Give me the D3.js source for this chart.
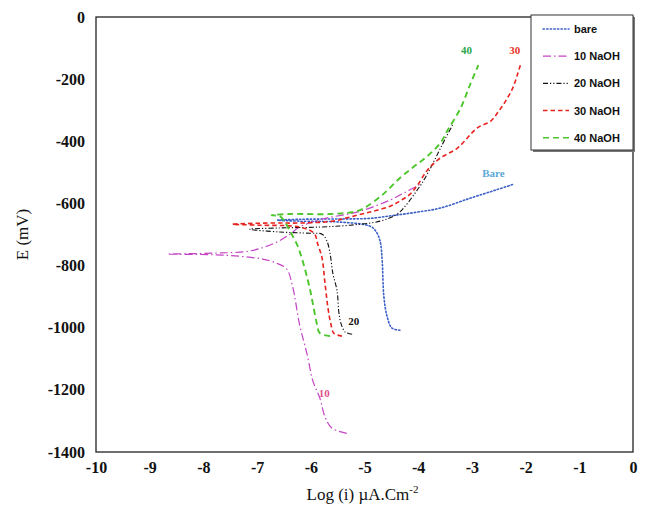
<!DOCTYPE html>
<html>
<head>
<meta charset="utf-8">
<script src="https://cdn.jsdelivr.net/npm/d3@7"></script>
<style>
  body { margin: 0; background: #fff; }
  svg { display: block; }
  .tick text { font-family: 'Liberation Serif', 'DejaVu Serif', serif; font-weight: bold; font-size: 16px; fill: #111; }
</style>
</head>
<body>
<svg id="chart" width="650" height="515"></svg>
<script>
// tick labels
var xTicks = [-10, -9, -8, -7, -6, -5, -4, -3, -2, -1, 0];
var yTicks = [0, -200, -400, -600, -800, -1000, -1200, -1400];

// series: log(i) and E (mV)
var bareX = [-4.34, -4.49, -4.58, -4.64, -4.67, -4.71, -4.79, -4.90, -5.46, -6.21, -6.62, -6.21, -5.46, -4.90, -4.43, -4.02, -3.59, -3.03, -2.56, -2.22];
var bareY = [-1008, -1001, -963, -898, -786, -721, -689, -673, -660, -657, -654, -651, -650, -648, -638, -628, -615, -583, -557, -538];

var naoh10X = [-5.33, -5.61, -5.74, -5.83, -5.96, -6.07, -6.21, -6.34, -6.45, -6.64, -6.90, -7.33, -7.83, -8.67, -7.83, -7.14, -6.64, -6.39, -6.21, -5.78, -5.14, -4.52, -4.24, -3.96];
var naoh10Y = [-1340, -1323, -1285, -1227, -1172, -1085, -989, -866, -811, -792, -779, -770, -765, -763, -760, -753, -725, -699, -676, -650, -628, -589, -564, -538];

var naoh20X = [-5.23, -5.36, -5.44, -5.48, -5.51, -5.59, -5.64, -5.70, -5.79, -6.02, -6.58, -7.14, -6.58, -5.83, -5.27, -4.71, -4.39, -4.21, -4.06, -3.93, -3.78, -3.63, -3.50, -3.36];
var naoh20Y = [-1021, -1014, -985, -947, -882, -824, -763, -721, -699, -696, -692, -683, -679, -676, -670, -657, -634, -602, -567, -535, -489, -438, -393, -348];

var naoh30X = [-5.42, -5.57, -5.63, -5.68, -5.74, -5.79, -5.87, -5.94, -6.21, -6.95, -7.46, -6.77, -6.21, -5.59, -5.21, -4.84, -4.52, -4.34, -4.15, -4.00, -3.83, -3.59, -3.27, -2.90, -2.65, -2.50, -2.37, -2.24, -2.15, -2.09];
var naoh30Y = [-1027, -1018, -985, -937, -850, -776, -731, -696, -676, -670, -667, -663, -663, -657, -641, -625, -609, -592, -570, -538, -493, -454, -422, -357, -335, -303, -270, -229, -184, -151];

var naoh40X = [-5.64, -5.83, -5.89, -5.96, -6.02, -6.15, -6.26, -6.39, -6.49, -6.58, -6.73, -6.39, -5.64, -5.14, -4.95, -4.65, -4.34, -4.09, -3.83, -3.59, -3.46, -3.21, -3.03, -2.88];
var naoh40Y = [-1027, -1018, -985, -924, -873, -786, -731, -689, -657, -641, -638, -634, -634, -625, -609, -570, -518, -483, -448, -406, -367, -293, -216, -155];

var seriesNames = ["bare", "10 NaOH", "20 NaOH", "30 NaOH", "40 NaOH"];

var margin = {top: 17, right: 17, bottom: 63, left: 96};
var W = 650, H = 515;
var width = W - margin.left - margin.right;
var height = H - margin.top - margin.bottom;

var series = [
  { name: seriesNames[0], xs: bareX,   ys: bareY,   color: "#3b5fc8", dash: "1.4,2.2", w: 1.6, cap: "round" },
  { name: seriesNames[1], xs: naoh10X, ys: naoh10Y, color: "#c444c4", dash: "8,3,1.5,3", w: 1.2, cap: "butt" },
  { name: seriesNames[2], xs: naoh20X, ys: naoh20Y, color: "#111111", dash: "5,2,1.2,2,1.2,2", w: 1.1, cap: "butt" },
  { name: seriesNames[3], xs: naoh30X, ys: naoh30Y, color: "#e8221e", dash: "4.5,3", w: 1.6, cap: "butt" },
  { name: seriesNames[4], xs: naoh40X, ys: naoh40Y, color: "#4cc62c", dash: "6,4", w: 1.9, cap: "butt" }
];

var svg = d3.select("#chart");
var g = svg.append("g").attr("transform", "translate(" + margin.left + "," + margin.top + ")");

var x = d3.scaleLinear().domain([-10, 0]).range([0, width]);
var y = d3.scaleLinear().domain([0, -1400]).range([0, height]);

var plainNum = function(d){ return String(d); };

// 軸ラベル
var xAxis = g.append("g")
  .attr("transform", "translate(0," + height + ")")
  .call(d3.axisBottom(x).tickValues(xTicks).tickSize(0).tickPadding(10).tickFormat(plainNum));
var yAxis = g.append("g")
  .call(d3.axisLeft(y).tickValues(yTicks).tickSize(0).tickPadding(11).tickFormat(plainNum));

[xAxis, yAxis].forEach(function(a){
  a.select(".domain").remove();
  a.attr("font-family", null).attr("font-size", null);
});

// 曲線
var line = d3.line()
  .x(function(d){ return x(d[0]); })
  .y(function(d){ return y(d[1]); })
  .curve(d3.curveCatmullRom.alpha(0.5));

series.forEach(function(s){
  var pts = s.xs.map(function(v, i){ return [v, s.ys[i]]; });
  g.append("path")
    .attr("d", line(pts))
    .attr("fill", "none")
    .attr("stroke", s.color)
    .attr("stroke-width", s.w)
    .attr("stroke-dasharray", s.dash)
    .attr("stroke-linecap", s.cap)
    .attr("stroke-linejoin", "round");
});

// frame
g.append("rect")
  .attr("x", 0).attr("y", 0)
  .attr("width", width).attr("height", height)
  .attr("fill", "none")
  .attr("stroke", "#222")
  .attr("stroke-width", 1.3);

// curve labels
var curveLabels = [
  { text: "40",   at: [-3.1, -120],  color: "#2ba84a" },
  { text: "30",   at: [-2.2, -120],  color: "#e53226" },
  { text: "Bare", at: [-2.6, -515],  color: "#5aa8d8" },
  { text: "20",   at: [-5.2, -990],  color: "#111" },
  { text: "10",   at: [-5.75, -1222], color: "#e24f8c" }
];
g.selectAll(".clabel")
  .data(curveLabels)
  .enter().append("text")
  .attr("class", "clabel")
  .attr("x", function(d){ return x(d.at[0]); })
  .attr("y", function(d){ return y(d.at[1]); })
  .attr("text-anchor", "middle")
  .attr("font-family", "'Liberation Serif', 'DejaVu Serif', serif")
  .attr("font-weight", "bold")
  .attr("font-size", 11)
  .attr("fill", function(d){ return d.color; })
  .text(function(d){ return d.text; });

// axis titles
svg.append("text")
  .attr("transform", "translate(28," + (margin.top + height / 2) + ") rotate(-90)")
  .attr("text-anchor", "middle")
  .attr("font-family", "'Liberation Serif', 'DejaVu Serif', serif")
  .attr("font-size", 17)
  .attr("fill", "#111")
  .text("E (mV)");

var xt = svg.append("text")
  .attr("x", margin.left + width / 2 - 2)
  .attr("y", 500)
  .attr("text-anchor", "middle")
  .attr("font-family", "'Liberation Serif', 'DejaVu Serif', serif")
  .attr("font-size", 17)
  .attr("fill", "#111");
xt.append("tspan").text("Log (i) \u00b5A.Cm");
xt.append("tspan").attr("font-size", 11).attr("dy", -7).text("-2");

// legend
var lg = svg.append("g").attr("transform", "translate(531,15)");
lg.append("rect").attr("x", 2).attr("y", 2).attr("width", 102).attr("height", 135).attr("fill", "#777");
lg.append("rect").attr("x", 0).attr("y", 0).attr("width", 102).attr("height", 135)
  .attr("fill", "#fff").attr("stroke", "#333").attr("stroke-width", 1);

var rows = lg.selectAll(".row")
  .data(series)
  .enter().append("g")
  .attr("class", "row")
  .attr("transform", function(d, i){ return "translate(0," + (14 + i * 27.2) + ")"; });
rows.append("line")
  .attr("x1", 12).attr("x2", 38).attr("y1", 0).attr("y2", 0)
  .attr("stroke", function(d){ return d.color; })
  .attr("stroke-width", function(d){ return Math.min(d.w, 1.5); })
  .attr("stroke-dasharray", function(d){ return d.dash; })
  .attr("stroke-linecap", function(d){ return d.cap; });
rows.append("text")
  .attr("x", 43).attr("y", 4)
  .attr("font-family", "'Liberation Sans', Arial, sans-serif")
  .attr("font-weight", "bold")
  .attr("font-size", 11)
  .attr("fill", "#111")
  .text(function(d){ return d.name; });
</script>
</body>
</html>
